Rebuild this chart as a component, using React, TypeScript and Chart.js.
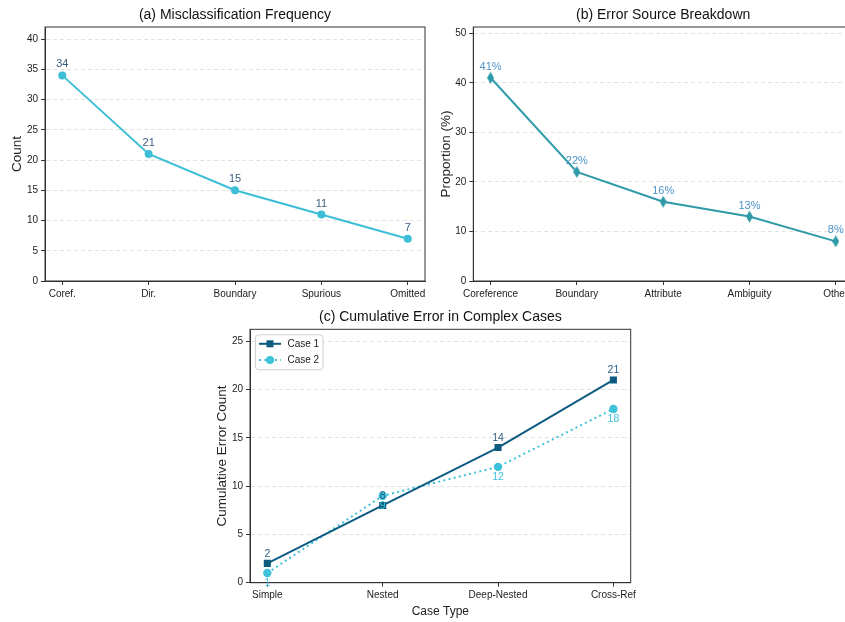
import React, { useEffect, useRef } from "react";
import { Chart, registerables } from "chart.js";
Chart.register(...registerables);

// ---------- data ----------
const catsA = ["Coref.", "Dir.", "Boundary", "Spurious", "Omitted"];
const valsA = [34, 21, 15, 11, 7];
const yTicksA = [0, 5, 10, 15, 20, 25, 30, 35, 40];

const catsB = ["Coreference", "Boundary", "Attribute", "Ambiguity", "Other"];
const valsB = [41, 22, 16, 13, 8];
const yTicksB = [0, 10, 20, 30, 40, 50];

const catsC = ["Simple", "Nested", "Deep-Nested", "Cross-Ref"];
const case1 = [2, 8, 14, 21];
const case2 = [1, 9, 12, 18];
const yTicksC = [0, 5, 10, 15, 20, 25];

const FONT = "'Liberation Sans', Arial, Helvetica, sans-serif";
Chart.defaults.font.family = FONT;

const toXY = (vals: number[]) => vals.map((v, i) => ({ x: i, y: v }));

// thin diamond marker
function makeThinDiamond(color: string) {
  const c = document.createElement("canvas");
  c.width = 7;
  c.height = 12;
  const g = c.getContext("2d")!;
  g.fillStyle = color;
  g.beginPath();
  g.moveTo(3.5, 0);
  g.lineTo(7, 6);
  g.lineTo(3.5, 12);
  g.lineTo(0, 6);
  g.closePath();
  g.fill();
  return c;
}

const frameTitlePlugin = {
  id: "frameTitle",
  beforeDatasetsDraw(chart: any) {
    const { ctx, chartArea } = chart;
    ctx.save();
    ctx.strokeStyle = "#333";
    ctx.lineWidth = 1;
    ctx.strokeRect(chartArea.left, chartArea.top, chartArea.right - chartArea.left, chartArea.bottom - chartArea.top);
    ctx.restore();
  },
  afterDraw(chart: any, _args: any, opts: any) {
    const { ctx, chartArea } = chart;
    if (!opts || !opts.text) return;
    ctx.save();
    ctx.font = `14px ${FONT}`;
    ctx.fillStyle = "#111";
    ctx.textAlign = "center";
    ctx.textBaseline = "middle";
    ctx.fillText(opts.text, (chartArea.left + chartArea.right) / 2, opts.y);
    ctx.restore();
  },
};

const dataLabelPlugin = {
  id: "valueLabels",
  afterDatasetsDraw(chart: any) {
    const ctx = chart.ctx;
    chart.data.datasets.forEach((ds: any, i: number) => {
      if (!ds.labelColor) return;
      const meta = chart.getDatasetMeta(i);
      ctx.save();
      ctx.font = `${ds.labelSize || 11}px ${FONT}`;
      ctx.fillStyle = ds.labelColor;
      ctx.textAlign = "center";
      ctx.textBaseline = "middle";
      meta.data.forEach((pt: any, j: number) => {
        const v = ds.data[j].y;
        ctx.fillText(`${v}${ds.labelSuffix || ""}`, pt.x, pt.y + ds.labelOffset);
      });
      ctx.restore();
    });
  },
};

const legendPlugin = {
  id: "boxLegend",
  afterDraw(chart: any, _args: any, opts: any) {
    if (!opts || !opts.show) return;
    const { ctx, chartArea } = chart;
    const x = chartArea.left + 5.5;
    const y = chartArea.top + 5.5;
    const w = 67.5;
    const h = 35;
    ctx.save();
    ctx.fillStyle = "rgba(255,255,255,0.85)";
    ctx.strokeStyle = "#d0d0d0";
    ctx.lineWidth = 1;
    ctx.beginPath();
    (ctx as any).roundRect(x, y, w, h, 3);
    ctx.fill();
    ctx.stroke();
    const dsets = chart.data.datasets;
    dsets.forEach((ds: any, i: number) => {
      const ry = y + 9 + i * 16.3;
      const lx0 = x + 3.5;
      const lx1 = x + 25.5;
      ctx.strokeStyle = ds.borderColor;
      ctx.lineWidth = ds.borderWidth;
      ctx.setLineDash(ds.borderDash || []);
      ctx.beginPath();
      ctx.moveTo(lx0, ry);
      ctx.lineTo(lx1, ry);
      ctx.stroke();
      ctx.setLineDash([]);
      ctx.fillStyle = ds.pointBackgroundColor;
      const cx = (lx0 + lx1) / 2;
      if (ds.pointStyle === "rect") {
        ctx.fillRect(cx - 3.5, ry - 3.5, 7, 7);
      } else {
        ctx.beginPath();
        ctx.arc(cx, ry, 4, 0, Math.PI * 2);
        ctx.fill();
      }
      ctx.fillStyle = "#222";
      ctx.font = `10px ${FONT}`;
      ctx.textAlign = "left";
      ctx.textBaseline = "middle";
      ctx.fillText(ds.label, x + 32, ry);
    });
    ctx.restore();
  },
};

function makeOptions(p: {
  xLabels: string[];
  xPad: number;
  yMax: number;
  yTicks: number[];
  yTitle: string;
  yTitlePad: number;
  yAxisWidth: number;
  xAxisHeight: number;
  xTitle?: string;
  xTitlePad?: number;
  padding: any;
  title: string;
  titleY: number;
  legend?: boolean;
}) {
  return {
    responsive: false,
    animation: false,
    layout: { padding: p.padding },
    plugins: {
      legend: { display: false },
      title: { display: false },
      tooltip: { enabled: false },
      frameTitle: { text: p.title, y: p.titleY },
      boxLegend: { show: !!p.legend },
    },
    scales: {
      x: {
        type: "linear",
        min: -p.xPad,
        max: p.xLabels.length - 1 + p.xPad,
        afterBuildTicks: (s: any) => {
          s.ticks = p.xLabels.map((_, i) => ({ value: i }));
        },
        afterFit: (s: any) => {
          s.height = p.xAxisHeight;
        },
        ticks: {
          callback: (v: any) => p.xLabels[Math.round(v)],
          autoSkip: false,
          maxRotation: 0,
          minRotation: 0,
          font: { size: 10 },
          color: "#222",
          padding: 3,
        },
        grid: { drawOnChartArea: false, tickLength: 4, tickColor: "#333", tickWidth: 1 },
        border: { color: "#333", width: 1 },
        title: p.xTitle
          ? { display: true, text: p.xTitle, font: { size: 12 }, color: "#222", padding: { top: 0, bottom: p.xTitlePad || 0 } }
          : { display: false },
      },
      y: {
        type: "linear",
        min: 0,
        max: p.yMax,
        afterBuildTicks: (s: any) => {
          s.ticks = p.yTicks.map((v) => ({ value: v }));
        },
        afterFit: (s: any) => {
          s.width = p.yAxisWidth;
        },
        ticks: { font: { size: 10 }, color: "#222", padding: 3 },
        grid: { color: "#dcdcdc", lineWidth: 0.8, tickLength: 4, tickColor: "#333", tickWidth: 1 },
        border: { color: "#333", width: 1, dash: [4, 3] },
        title: { display: true, text: p.yTitle, font: { size: 13.5 }, color: "#222", padding: { top: p.yTitlePad, bottom: 0 } },
      },
    },
  } as any;
}

export default function App() {
  const refA = useRef<HTMLCanvasElement>(null);
  const refB = useRef<HTMLCanvasElement>(null);
  const refC = useRef<HTMLCanvasElement>(null);

  useEffect(() => {
    document.body.style.margin = "0";
    const colA = "#3cbfd6";
    const colB = "#2f9aa8";
    const col1 = "#0d5b80";
    const col2 = "#3dc2da";

    const chartA = new Chart(refA.current!, {
      type: "line",
      data: {
        datasets: [
          {
            label: "Count",
            data: toXY(valsA),
            borderColor: colA,
            backgroundColor: colA,
            pointBackgroundColor: colA,
            pointBorderColor: colA,
            borderWidth: 2,
            pointRadius: 4,
            pointBorderWidth: 0,
            tension: 0,
            labelColor: "#3b5e80",
            labelOffset: -11,
            labelSize: 11,
          } as any,
        ],
      },
      options: makeOptions({
        xLabels: catsA,
        xPad: 0.2,
        yMax: 42,
        yTicks: yTicksA,
        yTitle: "Count",
        yTitlePad: 9,
        yAxisWidth: 45,
        xAxisHeight: 24,
        padding: { top: 27, left: 0, right: 5, bottom: 0 },
        title: "(a) Misclassification Frequency",
        titleY: 15,
      }),
      plugins: [frameTitlePlugin, dataLabelPlugin],
    });

    const chartB = new Chart(refB.current!, {
      type: "line",
      data: {
        datasets: [
          {
            label: "Proportion",
            data: toXY(valsB),
            borderColor: colB,
            backgroundColor: colB,
            pointBackgroundColor: colB,
            pointBorderColor: colB,
            borderWidth: 2,
            pointStyle: makeThinDiamond(colB),
            pointRadius: 5,
            tension: 0,
            labelColor: "#4f93c8",
            labelOffset: -11,
            labelSuffix: "%",
            labelSize: 11,
          } as any,
        ],
      },
      options: makeOptions({
        xLabels: catsB,
        xPad: 0.2,
        yMax: 51.25,
        yTicks: yTicksB,
        yTitle: "Proportion (%)",
        yTitlePad: 18,
        yAxisWidth: 53.3,
        xAxisHeight: 24,
        padding: { top: 27, left: 0, right: 7, bottom: 0 },
        title: "(b) Error Source Breakdown",
        titleY: 15,
      }),
      plugins: [frameTitlePlugin, dataLabelPlugin],
    });

    const chartC = new Chart(refC.current!, {
      type: "line",
      data: {
        datasets: [
          {
            label: "Case 1",
            data: toXY(case1),
            borderColor: col1,
            backgroundColor: col1,
            pointBackgroundColor: col1,
            pointBorderColor: col1,
            borderWidth: 2,
            pointStyle: "rect",
            pointRadius: 5,
            pointBorderWidth: 0,
            tension: 0,
            labelColor: "#2a5d85",
            labelOffset: -9.5,
            labelSize: 10.5,
          } as any,
          {
            label: "Case 2",
            data: toXY(case2),
            borderColor: col2,
            backgroundColor: col2,
            pointBackgroundColor: col2,
            pointBorderColor: col2,
            borderWidth: 2,
            borderDash: [2, 3.3],
            borderCapStyle: "butt",
            pointStyle: "circle",
            pointRadius: 4.2,
            pointBorderWidth: 0,
            tension: 0,
            labelColor: col2,
            labelOffset: 10.5,
            labelSize: 10.5,
          } as any,
        ],
      },
      options: makeOptions({
        xLabels: catsC,
        xPad: 0.15,
        yMax: 26.25,
        yTicks: yTicksC,
        yTitle: "Cumulative Error Count",
        yTitlePad: 14.5,
        yAxisWidth: 50,
        xAxisHeight: 39.3,
        xTitle: "Case Type",
        xTitlePad: 3,
        padding: { top: 29.3, left: 0, right: 9.3, bottom: 0 },
        title: "(c) Cumulative Error in Complex Cases",
        titleY: 17,
        legend: true,
      }),
      plugins: [frameTitlePlugin, dataLabelPlugin, legendPlugin],
    });

    return () => {
      chartA.destroy();
      chartB.destroy();
      chartC.destroy();
    };
  }, []);

  return (
    <div
      style={{
        position: "fixed",
        left: 0,
        top: 0,
        width: 845,
        height: 622,
        overflow: "hidden",
        background: "#fff",
      }}
    >
      <canvas ref={refA} width={430} height={305} style={{ position: "absolute", left: 0, top: 0, width: 430, height: 305 }} />
      <canvas ref={refB} width={440} height={305} style={{ position: "absolute", left: 420, top: 0, width: 440, height: 305 }} />
      <canvas ref={refC} width={440} height={322} style={{ position: "absolute", left: 200, top: 300, width: 440, height: 322 }} />
    </div>
  );
}
